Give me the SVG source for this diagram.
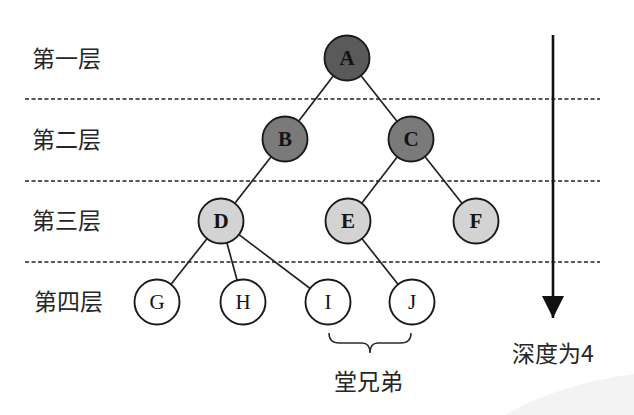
<svg xmlns="http://www.w3.org/2000/svg" width="634" height="415" viewBox="0 0 634 415">
<defs>
<style>
.lvl{stroke:#222;stroke-width:1.7;stroke-dasharray:4 2.5}
.edge{stroke:#222;stroke-width:1.7;fill:none}
.n circle{stroke:#1a1a1a;stroke-width:1.9}
.n text{font-family:"Liberation Serif","DejaVu Serif",serif;font-size:21px;text-anchor:middle;fill:#141414}
.d1 circle{fill:#5a5a5a}
.d2 circle{fill:#7a7a7a}
.d3 circle{fill:#d3d3d3}
.d4 circle{fill:#ffffff}
.b text{font-weight:bold}
.lab{font-family:"Noto Sans CJK SC","Noto Sans",sans-serif;font-size:23px;fill:#262626}
</style>
<marker id="ah" viewBox="0 0 10 10" refX="10" refY="5" markerWidth="22" markerHeight="22" markerUnits="userSpaceOnUse" orient="auto">
<path d="M0,0 L10,5 L0,10 Z" fill="#111"/>
</marker>
</defs>
<rect width="634" height="415" fill="#ffffff"/>
<path d="M505,415 C545,392 590,380 634,374 L634,415 Z" fill="#f3f3f3"/>
<g id="levels">
<line class="lvl" x1="25" y1="99" x2="600" y2="99"/>
<line class="lvl" x1="25" y1="181" x2="600" y2="181"/>
<line class="lvl" x1="25" y1="262" x2="600" y2="262"/>
</g>
<g id="level-labels">
<text class="lab" x="32" y="67">第一层</text>
<text class="lab" x="32" y="148">第二层</text>
<text class="lab" x="32" y="229">第三层</text>
<text class="lab" x="34" y="310">第四层</text>
</g>
<g id="connectors">
<line class="edge" x1="347" y1="58" x2="285" y2="139"/>
<line class="edge" x1="347" y1="58" x2="411" y2="139"/>
<line class="edge" x1="285" y1="139" x2="221" y2="221"/>
<line class="edge" x1="411" y1="139" x2="348" y2="221"/>
<line class="edge" x1="411" y1="139" x2="476" y2="221"/>
<line class="edge" x1="221" y1="221" x2="157" y2="302"/>
<line class="edge" x1="221" y1="221" x2="243" y2="302"/>
<line class="edge" x1="221" y1="221" x2="328" y2="302"/>
<line class="edge" x1="348" y1="221" x2="412" y2="302"/>
</g>
<g id="A" class="n d1 b"><circle cx="347" cy="58" r="22.5"/><text x="347" y="65">A</text></g>
<g id="B" class="n d2 b"><circle cx="285" cy="139" r="22.5"/><text x="285" y="146">B</text></g>
<g id="C" class="n d2 b"><circle cx="411" cy="139" r="22.5"/><text x="411" y="146">C</text></g>
<g id="D" class="n d3 b"><circle cx="221" cy="221" r="22.5"/><text x="221" y="228">D</text></g>
<g id="E" class="n d3 b"><circle cx="348" cy="221" r="22.5"/><text x="348" y="228">E</text></g>
<g id="F" class="n d3 b"><circle cx="476" cy="221" r="22.5"/><text x="476" y="228">F</text></g>
<g id="G" class="n d4"><circle cx="157" cy="302" r="22.5"/><text x="157" y="309">G</text></g>
<g id="H" class="n d4"><circle cx="243" cy="302" r="22.5"/><text x="243" y="309">H</text></g>
<g id="I" class="n d4"><circle cx="328" cy="302" r="22.5"/><text x="328" y="309">I</text></g>
<g id="J" class="n d4"><circle cx="412" cy="302" r="22.5"/><text x="412" y="309">J</text></g>
<g id="depth">
<line x1="553" y1="35" x2="553" y2="318" stroke="#111" stroke-width="2.6" marker-end="url(#ah)"/>
<text class="lab" x="512" y="362">深度为4</text>
</g>
<g id="cousins">
<path d="M329,333 Q329,343 339,343 L362,343 Q370,343 370,353 Q370,343 378,343 L401,343 Q411,343 411,333" fill="none" stroke="#2a2a2a" stroke-width="1.5"/>
<text class="lab" x="334" y="390">堂兄弟</text>
</g>
</svg>
